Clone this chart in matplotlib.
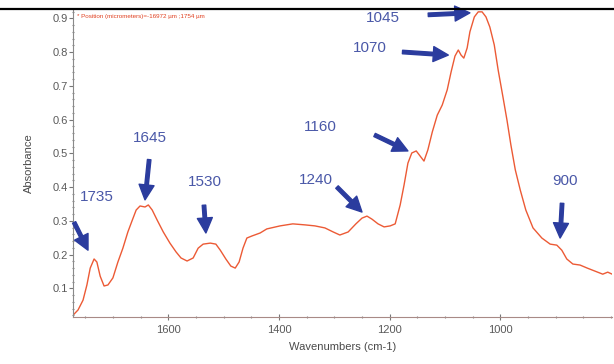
import matplotlib
matplotlib.use("Agg")
import matplotlib.pyplot as plt
from matplotlib.ticker import MultipleLocator
from matplotlib.lines import Line2D

plt.rcParams["font.family"] = ["Liberation Sans", "DejaVu Sans"]

# FTIR spectrum: wavenumber (cm-1) and absorbance
wavenumber = [1770, 1763, 1754, 1747, 1741, 1734, 1729, 1723, 1716, 1709,
              1700, 1691, 1682, 1673, 1665, 1658, 1651, 1642, 1636, 1629,
              1620, 1609, 1597, 1586, 1577, 1566, 1555, 1546, 1537, 1524,
              1514, 1506, 1496, 1487, 1479, 1472, 1465, 1458, 1449, 1434,
              1422, 1398, 1375, 1353, 1335, 1317, 1302, 1290, 1275, 1261,
              1250, 1241, 1232, 1221, 1210, 1199, 1190, 1181, 1174, 1167,
              1160, 1152, 1145, 1138, 1131, 1123, 1114, 1105, 1096, 1089,
              1082, 1076, 1071, 1066, 1060, 1055, 1047, 1040, 1033, 1026,
              1019, 1011, 1004, 995, 988, 981, 973, 964, 954, 941,
              925, 910, 898, 889, 880, 869, 856, 843, 829, 815,
              806, 798]
absorbance = [0.024, 0.036, 0.065, 0.110, 0.160, 0.187, 0.178, 0.136, 0.107, 0.110,
              0.131, 0.178, 0.219, 0.267, 0.302, 0.332, 0.344, 0.341, 0.347, 0.332,
              0.302, 0.267, 0.234, 0.208, 0.190, 0.181, 0.190, 0.219, 0.231, 0.234,
              0.231, 0.213, 0.187, 0.166, 0.160, 0.178, 0.219, 0.249, 0.255, 0.264,
              0.276, 0.285, 0.291, 0.288, 0.285, 0.279, 0.267, 0.258, 0.267, 0.291,
              0.308, 0.314, 0.305, 0.291, 0.282, 0.285, 0.291, 0.347, 0.406, 0.471,
              0.501, 0.507, 0.492, 0.477, 0.510, 0.563, 0.613, 0.643, 0.688, 0.741,
              0.788, 0.806, 0.791, 0.782, 0.812, 0.860, 0.904, 0.919, 0.919, 0.904,
              0.874, 0.821, 0.747, 0.664, 0.598, 0.525, 0.451, 0.391, 0.332, 0.279,
              0.249, 0.231, 0.228, 0.213, 0.187, 0.172, 0.169, 0.160, 0.151, 0.142,
              0.148, 0.142]

# Peak annotations: label, arrow tip (wavenumber, absorbance), tail offset (pt),
# label position (wavenumber, absorbance)
peak_labels = ["1735", "1645", "1530", "1240", "1160", "1070", "1045", "900"]
tip_wn = [1745, 1642, 1532, 1250, 1167, 1094, 1055, 892]
tip_abs = [0.213, 0.362, 0.264, 0.326, 0.507, 0.791, 0.916, 0.249]
tail_dx = [-10, 3, -1.4, -18, -24, -33, -30, 1.4]
tail_dy = [20, 29, 20, 18, 11.5, 2.2, -1.4, 25]
label_wn = [1729, 1633, 1533, 1333, 1326, 1235, 1212, 883]
label_abs = [0.370, 0.545, 0.415, 0.421, 0.578, 0.812, 0.901, 0.418]

x_ticks = [1600, 1400, 1200, 1000]
y_ticks = [0.1, 0.2, 0.3, 0.4, 0.5, 0.6, 0.7, 0.8, 0.9]

fig = plt.figure(figsize=(6.14, 3.64), dpi=100)
ax = fig.add_axes([0.119, 0.129, 0.878, 0.844])

ax.plot(wavenumber, absorbance, color="#ec5a35", lw=1.0)

ax.set_xlim(1772, 798)
ax.set_ylim(0.015, 0.925)
ax.set_xticks(x_ticks)
ax.set_yticks(y_ticks)
ax.set_yticklabels([f"{v:.1f}" for v in y_ticks])
ax.xaxis.set_minor_locator(MultipleLocator(50))
ax.yaxis.set_minor_locator(MultipleLocator(0.02))

for s in ["top", "right"]:
    ax.spines[s].set_visible(False)
ax.spines["left"].set_color("#8a8a8a")
ax.spines["bottom"].set_color("#a88a86")
ax.spines["left"].set_linewidth(0.8)
ax.spines["bottom"].set_linewidth(0.8)

ax.tick_params(axis="both", which="major", labelsize=8, labelcolor="#5a5a5a",
               color="#777777", length=3, width=0.8)
ax.tick_params(axis="x", which="major", direction="inout", length=4, pad=4)
ax.tick_params(axis="y", which="major", direction="out", length=3, pad=1)
ax.tick_params(axis="both", which="minor", color="#888888", length=2,
               width=0.8, direction="inout")

ax.set_xlabel("Wavenumbers (cm-1)", fontsize=8, color="#4a4a4a", labelpad=5)
ax.set_ylabel("Absorbance", fontsize=8, color="#4a4a4a", labelpad=13)

ax.text(0.008, 0.988, "* Position (micrometers)=-16972 \u00b5m ;1754 \u00b5m",
        transform=ax.transAxes, fontsize=4.5, color="#e04020", va="top", ha="left")

arrow_color = "#2b3c9e"
for lab, tx, ty, dx, dy, lx, ly in zip(peak_labels, tip_wn, tip_abs, tail_dx,
                                        tail_dy, label_wn, label_abs):
    ax.annotate("", xy=(tx, ty), xytext=(dx, dy), textcoords="offset points",
                arrowprops=dict(arrowstyle="simple,head_length=0.6,head_width=0.6,tail_width=0.14",
                                color=arrow_color, mutation_scale=18,
                                shrinkA=0, shrinkB=0),
                annotation_clip=False)
    ax.text(lx, ly, lab, fontsize=11, color="#4a58a8", ha="center", va="center")

# heavy rule across the top of the figure
fig.add_artist(Line2D([0, 1], [0.975, 0.975], transform=fig.transFigure,
                      color="black", lw=1.6))

fig.savefig("out.png", dpi=100)
